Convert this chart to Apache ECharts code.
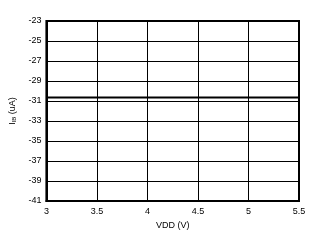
<!DOCTYPE html>
<html><head><meta charset="utf-8">
<script src="https://cdn.jsdelivr.net/npm/echarts@6/dist/echarts.min.js"></script>
<style>html,body{margin:0;padding:0;background:#fff}#c{width:320px;height:243px}</style>
</head><body><div id="c"></div>
<script>
const vdd = [3, 3.5, 4, 4.5, 5, 5.5];
const iib = [-30.65, -30.65, -30.65, -30.65, -30.65, -30.65];
const xTicks = ['3', '3.5', '4', '4.5', '5', '5.5'];
const yTicks = [-41, -39, -37, -35, -33, -31, -29, -27, -25, -23];

const chart = echarts.init(document.getElementById('c'), null, {renderer: 'canvas'});
const font = 'Liberation Sans, Arial, sans-serif';
chart.setOption({
  animation: false,
  grid: {left: 45, right: 21, top: 21, bottom: 42, show: true, borderColor: '#000', borderWidth: 2, backgroundColor: 'transparent'},
  xAxis: {
    type: 'value', min: 3, max: 5.5, interval: 0.5,
    name: 'VDD (V)', nameLocation: 'middle', nameGap: 20,
    nameTextStyle: {fontFamily: font, fontSize: 9, color: '#000'},
    axisLine: {show: true, lineStyle: {color: '#000', width: 2}},
    axisTick: {show: false},
    splitLine: {show: true, lineStyle: {color: '#000', width: 1}},
    axisLabel: {fontFamily: font, fontSize: 9, color: '#000', margin: 6,
      formatter: v => xTicks[Math.round((v - 3) / 0.5)] ?? ''}
  },
  yAxis: {
    type: 'value', min: -41, max: -23, interval: 2,
    name: '{a|I}{b|IB}{a| (uA)}', nameLocation: 'middle', nameGap: 21, nameRotate: 90,
    nameTextStyle: {fontFamily: font, fontSize: 9, color: '#000',
      rich: {a: {fontFamily: font, fontSize: 9, color: '#000'},
             b: {fontFamily: font, fontSize: 6, color: '#000', verticalAlign: 'bottom', padding: [4, 0, 0, 0]}}},
    axisLine: {show: true, lineStyle: {color: '#000', width: 2}},
    axisTick: {show: false},
    splitLine: {show: true, lineStyle: {color: '#000', width: 1}},
    axisLabel: {fontFamily: font, fontSize: 9, color: '#000', margin: 5,
      formatter: v => yTicks.includes(v) ? String(v) : ''}
  },
  series: [{
    type: 'line', data: vdd.map((x, i) => [x, iib[i]]),
    showSymbol: false, lineStyle: {color: '#000', width: 2}
  }]
});
</script></body></html>
